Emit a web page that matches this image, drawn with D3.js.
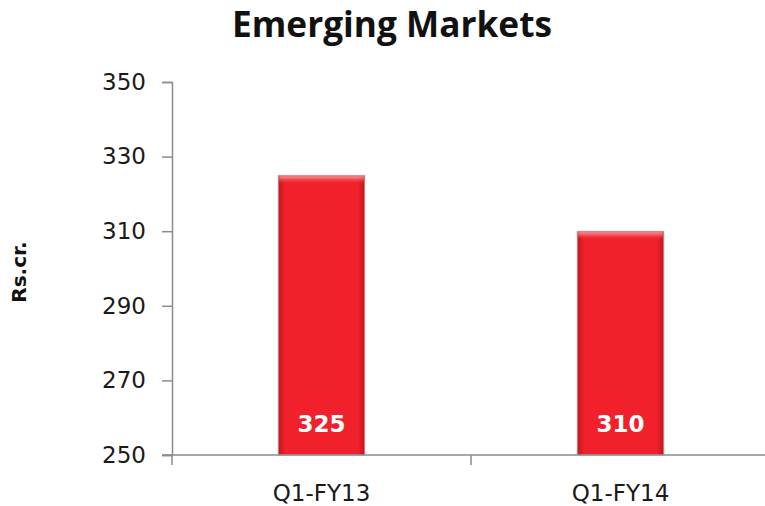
<!DOCTYPE html>
<html>
<head>
<meta charset="utf-8">
<script src="https://cdn.jsdelivr.net/npm/d3@7.9.0/dist/d3.min.js"></script>
<style>
  body { margin: 0; background: #fff; }
  svg { display: block; }
</style>
</head>
<body>
<svg id="chart" width="765" height="506"></svg>
<script>
// chart data
const categories = ['Q1-FY13', 'Q1-FY14'];
const values = [325, 310];
const yTicks = [250, 270, 290, 310, 330, 350];

const svg = d3.select('#chart');
const axisColor = '#8c8c8c';

// scales
const x = d3.scaleBand().domain(categories).range([172, 770]).padding(0);
const y = d3.scaleLinear().domain([250, 350]).range([455, 82]);
const barWidth = x.bandwidth() * 0.29;

// gradient for the bevelled red bars
const defs = svg.append('defs');
const grad = defs.append('linearGradient').attr('id', 'barGrad')
  .attr('x1', 0).attr('x2', 1).attr('y1', 0).attr('y2', 0);
grad.append('stop').attr('offset', '0%').attr('stop-color', '#c3141c');
grad.append('stop').attr('offset', '8%').attr('stop-color', '#f0212b');
grad.append('stop').attr('offset', '92%').attr('stop-color', '#f0212b');
grad.append('stop').attr('offset', '100%').attr('stop-color', '#c3141c');

const topGrad = defs.append('linearGradient').attr('id', 'topGrad')
  .attr('x1', 0).attr('x2', 0).attr('y1', 0).attr('y2', 1);
topGrad.append('stop').attr('offset', '0%').attr('stop-color', '#f49a9e');
topGrad.append('stop').attr('offset', '100%').attr('stop-color', '#f0212b').attr('stop-opacity', 0);

// title, sized to fill the same width as the original
const title = svg.append('text')
  .attr('x', 392).attr('y', 37)
  .attr('text-anchor', 'middle')
  .attr('font-family', '"Open Sans", Lato, sans-serif')
  .attr('font-weight', 'bold')
  .attr('font-size', 30)
  .attr('fill', '#111')
  .text('Emerging Markets');
const tw = title.node().getComputedTextLength();
title.attr('font-size', 30 * 320 / tw);

// y axis title
svg.append('text')
  .attr('transform', 'translate(26, 272) rotate(-90)')
  .attr('text-anchor', 'middle')
  .attr('font-family', '"DejaVu Sans", sans-serif')
  .attr('font-weight', 'bold')
  .attr('font-size', 20)
  .attr('fill', '#111')
  .text('Rs.cr.');

// bars
const bars = svg.append('g');
values.forEach((v, i) => {
  const cx = x(categories[i]) + x.bandwidth() / 2;
  bars.append('rect')
    .attr('x', cx - barWidth / 2)
    .attr('y', y(v))
    .attr('width', barWidth)
    .attr('height', y(250) - y(v))
    .attr('fill', 'url(#barGrad)')
    .attr('stroke', '#b8b8b8')
    .attr('stroke-width', 0.8);
  // top bevel highlight
  bars.append('rect')
    .attr('x', cx - barWidth / 2 + 1)
    .attr('y', y(v) + 1)
    .attr('width', barWidth - 2)
    .attr('height', 8)
    .attr('fill', 'url(#topGrad)');
  // value label
  bars.append('text')
    .attr('x', cx)
    .attr('y', 432)
    .attr('text-anchor', 'middle')
    .attr('font-family', '"DejaVu Sans", sans-serif')
    .attr('font-weight', 'bold')
    .attr('font-size', 23)
    .attr('fill', '#fff')
    .text(v);
});

// y axis
const yAxis = svg.append('g').attr('transform', 'translate(172,0)')
  .call(d3.axisLeft(y).tickValues(yTicks).tickSize(10).tickPadding(16).tickFormat(d3.format('d')));
yAxis.select('.domain').attr('stroke', axisColor).attr('stroke-width', 1.5);
yAxis.selectAll('.tick line').attr('stroke', axisColor).attr('stroke-width', 1.5);
yAxis.selectAll('.tick text')
  .attr('font-family', '"DejaVu Sans", sans-serif')
  .attr('font-size', 23)
  .attr('fill', '#1a1a1a');

// x axis (ticks between categories, Excel style)
const xAxis = svg.append('g');
xAxis.append('line')
  .attr('x1', 162).attr('x2', 765)
  .attr('y1', y(250)).attr('y2', y(250))
  .attr('stroke', axisColor).attr('stroke-width', 1.5);
categories.forEach((c, i) => {
  const bx = x(c);
  xAxis.append('line')
    .attr('x1', bx).attr('x2', bx)
    .attr('y1', y(250)).attr('y2', y(250) + 10)
    .attr('stroke', axisColor).attr('stroke-width', 1.5);
  xAxis.append('text')
    .attr('x', bx + x.bandwidth() / 2)
    .attr('y', 501)
    .attr('text-anchor', 'middle')
    .attr('font-family', '"DejaVu Sans", sans-serif')
    .attr('font-size', 23)
    .attr('fill', '#1a1a1a')
    .text(c);
});
</script>
</body>
</html>
